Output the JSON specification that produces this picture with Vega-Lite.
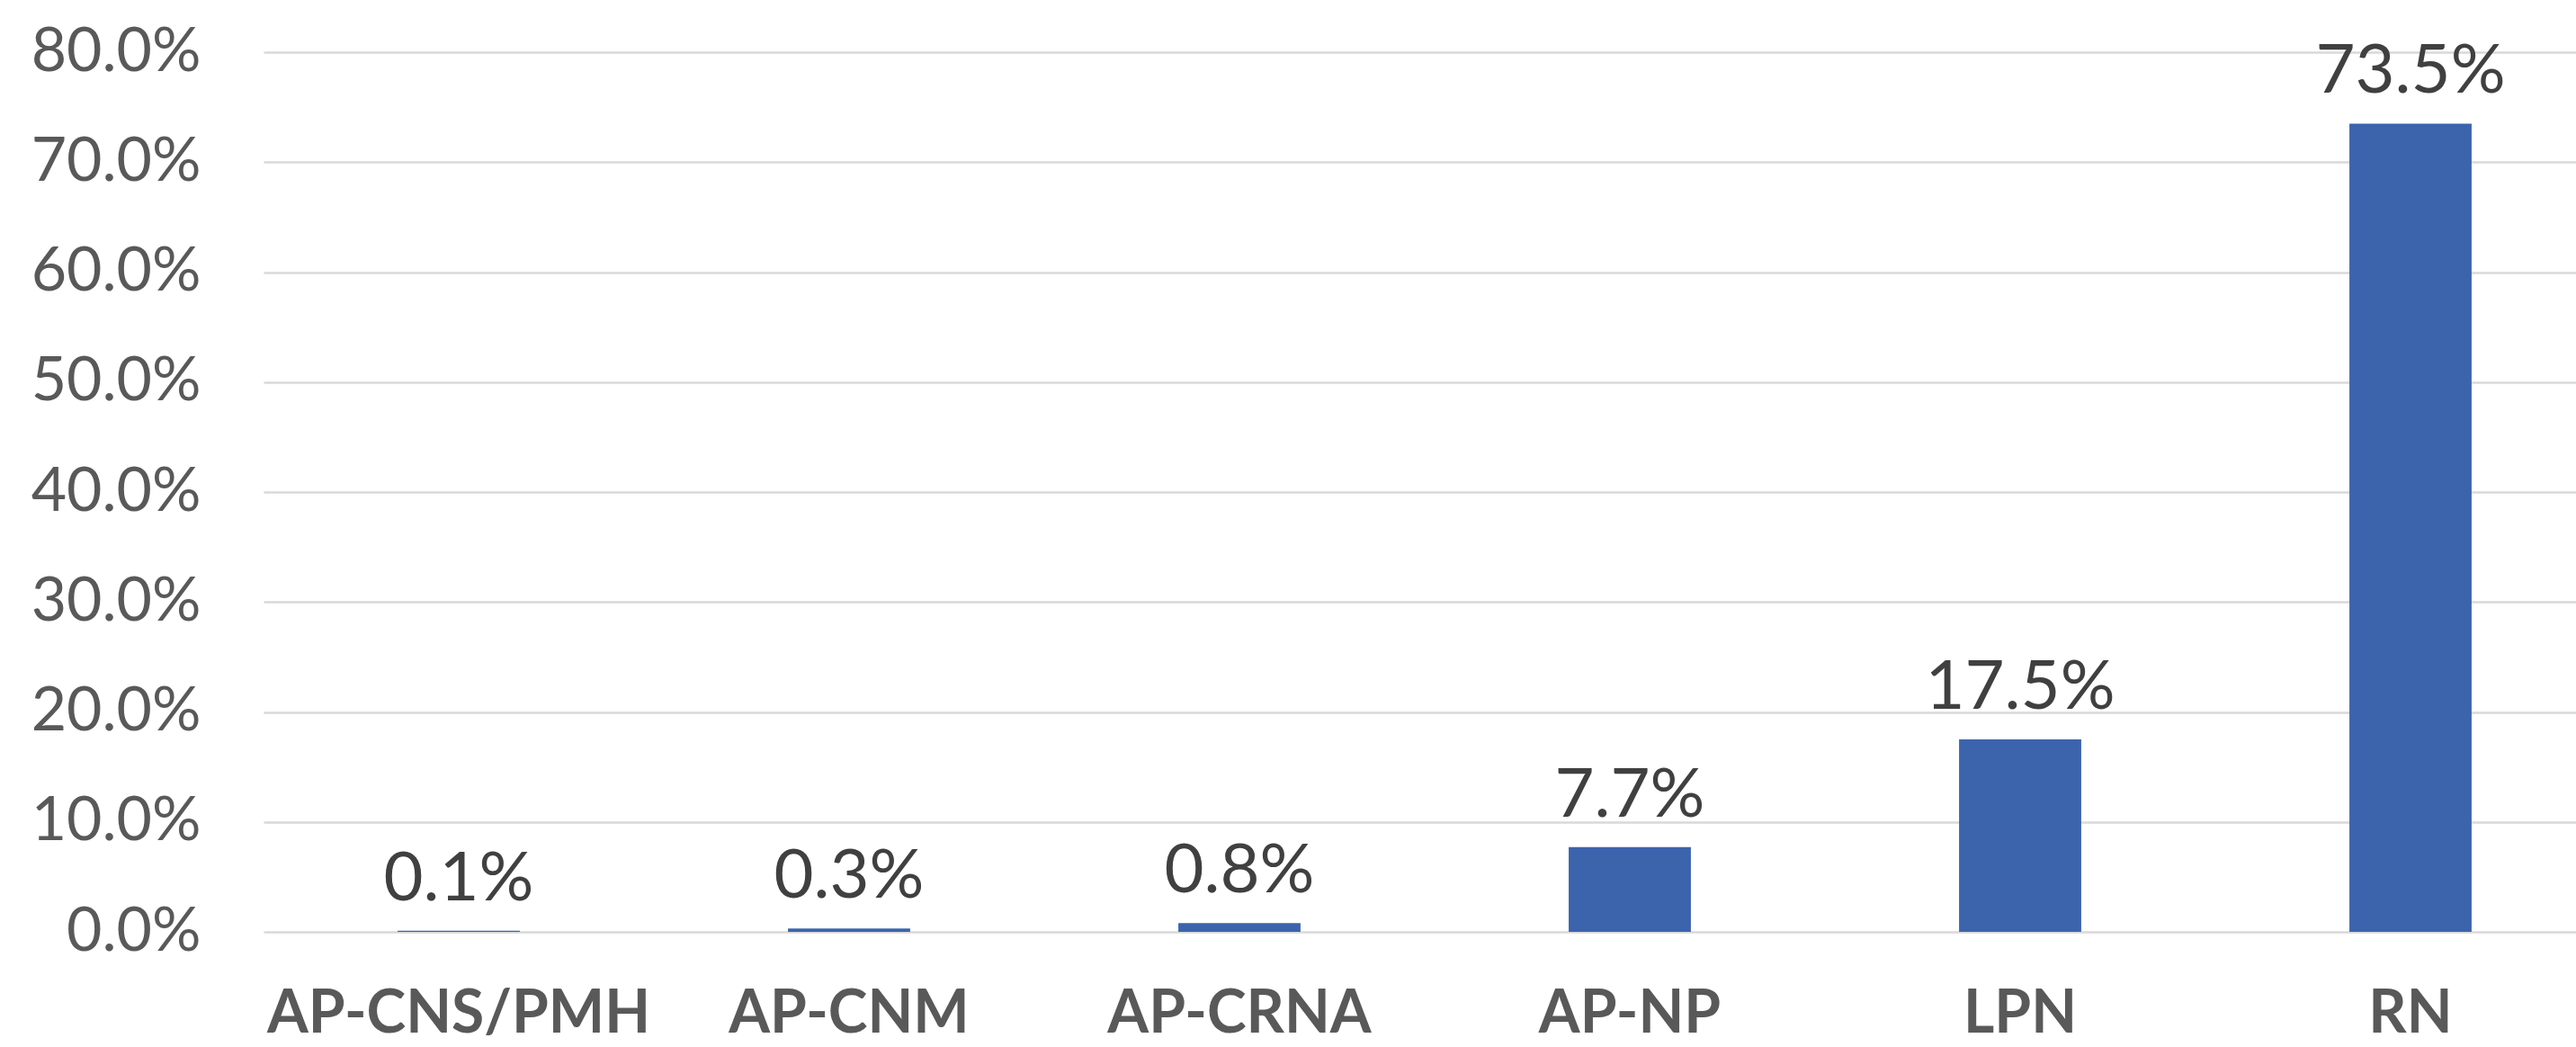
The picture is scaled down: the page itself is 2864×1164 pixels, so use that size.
{
  "$schema": "https://vega.github.io/schema/vega-lite/v6.json",
  "autosize": "none",
  "padding": {"left": 293, "top": 58, "right": 0, "bottom": 128},
  "width": 2571,
  "height": 978,
  "background": "white",
  "config": {"view": {"stroke": null}},
  "data": {"values": [
    {"role": "AP-CNS/PMH", "share": 0.001},
    {"role": "AP-CNM", "share": 0.003},
    {"role": "AP-CRNA", "share": 0.008},
    {"role": "AP-NP", "share": 0.077},
    {"role": "LPN", "share": 0.175},
    {"role": "RN", "share": 0.735}
  ]},
  "encoding": {
    "x": {
      "field": "role", "type": "nominal", "sort": null,
      "scale": {"range": [0, 2604], "paddingInner": 0.687, "paddingOuter": 0.3435},
      "axis": {
        "title": null, "domain": false, "ticks": false, "labelAngle": 0, "labelLimit": 0,
        "labelFont": "Lato", "labelFontWeight": "bold", "labelFontSize": 66,
        "labelColor": "#595959", "labelBaseline": "alphabetic", "labelPadding": 111
      }
    },
    "y": {
      "field": "share", "type": "quantitative",
      "scale": {"domain": [0, 0.8], "nice": false},
      "axis": {
        "title": null, "domain": false, "ticks": false, "format": ".1%", "labelLimit": 0,
        "values": [0, 0.1, 0.2, 0.3, 0.4, 0.5, 0.6, 0.7, 0.8],
        "labelFont": "Lato", "labelFontWeight": "normal", "labelFontSize": 68,
        "labelColor": "#595959", "labelPadding": 70,
        "gridColor": "#D9D9D9", "gridWidth": 2.5
      }
    }
  },
  "layer": [
    {"mark": {"type": "bar", "color": "#3B64AD"}},
    {
      "mark": {"type": "text", "font": "Lato", "fontSize": 76, "color": "#404040", "baseline": "alphabetic", "dy": -34},
      "encoding": {"text": {"field": "share", "type": "quantitative", "format": ".1%"}}
    }
  ]
}
